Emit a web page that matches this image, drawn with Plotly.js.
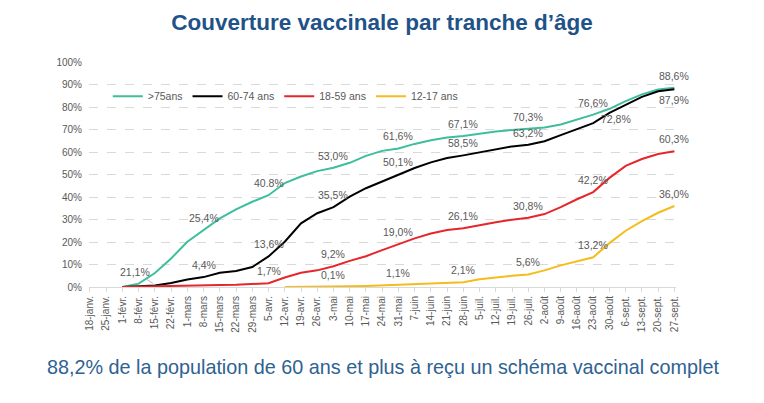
<!DOCTYPE html>
<html>
<head>
<meta charset="utf-8">
<script src="https://cdn.plot.ly/plotly-3.0.1.min.js"></script>
<style>
  body { margin: 0; background: #fff; }
  #chart { width: 764px; height: 403px; }
</style>
</head>
<body>
<div id="chart"></div>
<script>
// weekly tick labels, 18 Jan -> 27 Sept
var weekLabels = ['18-janv.', '25-janv.', '1-févr.', '8-févr.', '15-févr.', '22-févr.',
    '1-mars', '8-mars', '15-mars', '22-mars', '29-mars', '5-avr.', '12-avr.', '19-avr.',
    '26-avr.', '3-mai', '10-mai', '17-mai', '24-mai', '31-mai', '7-juin', '14-juin',
    '21-juin', '28-juin', '5-juil.', '12-juil.', '19-juil.', '26-juil.', '2-août',
    '9-août', '16-août', '23-août', '30-août', '6-sept.', '13-sept.', '20-sept.', '27-sept.'];

// coverage (%) per week
var over75 = [null, null, 0, 1.5, 6.2, 12.7, 20.1, 25.4, 30.5, 34.5, 37.9, 40.8, 46.2,
    49.1, 51.5, 53.0, 55.2, 58.3, 60.5, 61.6, 63.6, 65.2, 66.4, 67.1, 68.2, 69.1, 69.8,
    70.3, 70.9, 72.2, 74.4, 76.6, 79.2, 82.6, 85.6, 87.8, 88.6];
var age6074 = [null, null, 0, 0.3, 0.7, 1.8, 3.3, 4.4, 6.3, 7.1, 8.9, 13.6, 20.1,
    28.3, 32.8, 35.5, 40.2, 43.9, 46.9, 50.1, 52.9, 55.4, 57.3, 58.5, 59.8, 61.3, 62.5,
    63.2, 64.8, 67.5, 70.3, 72.8, 77.4, 81.1, 84.5, 87.0, 87.9];
var age1859 = [null, null, 0, 0.2, 0.3, 0.5, 0.6, 0.8, 0.9, 1.0, 1.3, 1.7, 4.2,
    6.3, 7.4, 9.2, 11.6, 13.7, 16.4, 19.0, 21.6, 23.8, 25.3, 26.1, 27.5, 28.8, 29.9,
    30.8, 32.4, 35.5, 39.0, 42.2, 48.5, 53.8, 56.9, 59.1, 60.3];
var age1217 = [null, null, null, null, null, null, null, null, null, null, null, null, 0,
    0, 0.05, 0.1, 0.3, 0.5, 0.8, 1.1, 1.3, 1.5, 1.8, 2.1, 3.4, 4.3, 5.0,
    5.6, 7.4, 9.6, 11.3, 13.2, 19.5, 25.0, 29.3, 33.0, 36.0];

// data labels: week index + text as printed on the chart
var over75LabelWeeks = [7, 11, 15, 19, 23, 27, 31, 36];
var over75LabelText = ['25,4%', '40.8%', '53,0%', '61,6%', '67,1%', '70,3%', '76,6%', '88,6%'];
var age6074LabelWeeks = [7, 11, 15, 19, 23, 27, 31, 36];
var age6074LabelText = ['4,4%', '13,6%', '35,5%', '50,1%', '58,5%', '63,2%', '72,8%', '87,9%'];
var age1859LabelWeeks = [11, 15, 19, 23, 27, 31, 36];
var age1859LabelText = ['1,7%', '9,2%', '19,0%', '26,1%', '30,8%', '42,2%', '60,3%'];
var age1217LabelWeeks = [15, 19, 23, 27, 31, 36];
var age1217LabelText = ['0,1%', '1,1%', '2,1%', '5,6%', '13,2%', '36,0%'];

var weeks = weekLabels.map(function(d, i) { return i; });
var grey = '#595959';

function makeTrace(name, values, color) {
    return {
        x: weeks,
        y: values,
        name: name,
        mode: 'lines',
        line: {color: color, width: 2},
        hoverinfo: 'skip'
    };
}

function makeLabels(values, labelWeeks, labelText, shifts) {
    return labelWeeks.map(function(w, k) {
        var s = shifts[w] || [0, 12];
        return {
            x: w, y: values[w], xref: 'x', yref: 'y',
            text: labelText[k], showarrow: false,
            xshift: s[0], yshift: s[1],
            font: {family: 'Liberation Sans', size: 10.5, color: grey}
        };
    });
}

var data = [
    makeTrace('>75ans', over75, '#3DBE9D'),
    makeTrace('60-74 ans', age6074, '#000000'),
    makeTrace('18-59 ans', age1859, '#E5262A'),
    makeTrace('12-17 ans', age1217, '#F5BC1C')
];

var annotations = []
    .concat(makeLabels(over75, over75LabelWeeks, over75LabelText, {}))
    .concat(makeLabels(age6074, age6074LabelWeeks, age6074LabelText, {31: [23, 4], 36: [0, -11]}))
    .concat(makeLabels(age1859, age1859LabelWeeks, age1859LabelText, {}))
    .concat(makeLabels(age1217, age1217LabelWeeks, age1217LabelText, {}));

// the odd label with a leader line near the start
annotations.push({
    x: 3.9, y: 1.5, xref: 'x', yref: 'y', text: '21,1%',
    showarrow: true, arrowhead: 0, arrowwidth: 0.8, arrowcolor: '#A6A6A6',
    ax: -18, ay: -12,
    font: {family: 'Liberation Sans', size: 10.5, color: grey}
});

annotations.push({
    x: 0.5, y: -0.356, xref: 'paper', yref: 'paper',
    xanchor: 'center', yanchor: 'middle', showarrow: false,
    text: '88,2% de la population de 60 ans et plus à reçu un schéma vaccinal complet',
    font: {family: 'Liberation Sans', size: 19.8, color: '#2E6291'}
});

var layout = {
    width: 764,
    height: 403,
    margin: {l: 89, r: 88, t: 62, b: 116},
    paper_bgcolor: '#fff',
    plot_bgcolor: '#fff',
    title: {
        text: '<b>Couverture vaccinale par tranche d’âge</b>',
        x: 0.5, xanchor: 'center',
        y: 1 - 22 / 403, yanchor: 'middle',
        font: {family: 'Liberation Sans', size: 22.5, color: '#1F5289'}
    },
    showlegend: true,
    legend: {
        orientation: 'h',
        x: 0.032, xanchor: 'left',
        y: 0.848, yanchor: 'middle',
        bgcolor: 'rgba(0,0,0,0)',
        font: {family: 'Liberation Sans', size: 10.5, color: grey},
        itemwidth: 30,
        traceorder: 'normal'
    },
    xaxis: {
        range: [-0.06, 36.1],
        tickmode: 'array',
        tickvals: weeks,
        ticktext: weekLabels,
        tickangle: -90,
        tickfont: {family: 'Liberation Sans', size: 10, color: grey},
        ticks: 'outside',
        ticklen: 4,
        tickcolor: '#D9D9D9',
        showline: true,
        linecolor: '#D9D9D9',
        showgrid: false,
        zeroline: false,
        fixedrange: true
    },
    yaxis: {
        range: [0, 100],
        dtick: 10,
        ticksuffix: '%',
        tickfont: {family: 'Liberation Sans', size: 10, color: grey},
        gridcolor: '#D9D9D9',
        griddash: 'dash',
        zeroline: false,
        showline: false,
        ticklabelstandoff: 6,
        fixedrange: true
    },
    shapes: [{
        type: 'rect', layer: 'below',
        xref: 'paper', yref: 'y',
        x0: 0.02, x1: 0.545, y0: 78, y1: 93,
        fillcolor: '#fff', line: {width: 0}
    }],
    annotations: annotations
};

Plotly.newPlot('chart', data, layout, {displayModeBar: false, staticPlot: true});
</script>
</body>
</html>
